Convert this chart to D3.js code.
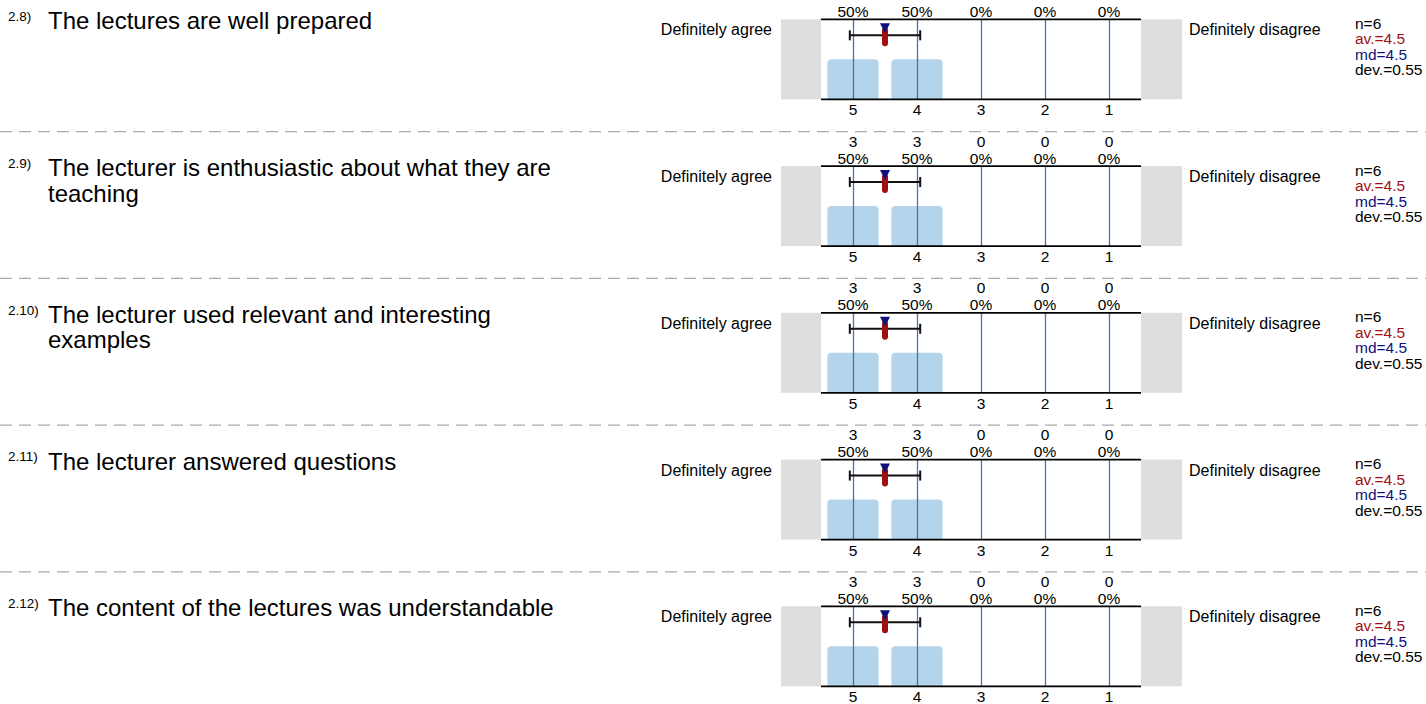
<!DOCTYPE html>
<html>
<head>
<meta charset="utf-8">
<script src="https://cdn.jsdelivr.net/npm/d3@7"></script>
<style>
  html, body { margin: 0; padding: 0; background: #fff; }
  svg { display: block; font-family: "Liberation Sans", Arial, sans-serif; }
</style>
</head>
<body>
<div id="chart"></div>
<script>
// ─── data ────────────────────────────────────────────────────────────────
const QUESTION_IDS = ["2.8)", "2.9)", "2.10)", "2.11)", "2.12)"];
const QUESTION_LINES = [
    ["The lectures are well prepared"],
    ["The lecturer is enthusiastic about what they are", "teaching"],
    ["The lecturer used relevant and interesting", "examples"],
    ["The lecturer answered questions"],
    ["The content of the lectures was understandable"]
];
const SCALE_POINTS = ["5", "4", "3", "2", "1"];
const COUNTS = [
    [3, 3, 0, 0, 0],
    [3, 3, 0, 0, 0],
    [3, 3, 0, 0, 0],
    [3, 3, 0, 0, 0],
    [3, 3, 0, 0, 0]
];
const PERCENTS = [
    [50, 50, 0, 0, 0],
    [50, 50, 0, 0, 0],
    [50, 50, 0, 0, 0],
    [50, 50, 0, 0, 0],
    [50, 50, 0, 0, 0]
];
const N_VALUES = [6, 6, 6, 6, 6];
const MEANS = [4.5, 4.5, 4.5, 4.5, 4.5];
const MEDIANS = [4.5, 4.5, 4.5, 4.5, 4.5];
const DEVS = [0.55, 0.55, 0.55, 0.55, 0.55];
const LEFT_POLE = "Definitely agree";
const RIGHT_POLE = "Definitely disagree";

// ─── layout / colours ────────────────────────────────────────────────────
const W = 1426, H = 704;
const BLOCK_STEP = 146.75, FIRST_TOP = 19.3, PLOT_H = 80;
const PLOT_LEFT = 821, PLOT_RIGHT = 1141;
const COLOR_BAR = "#b4d4eb";
const COLOR_GRID = "#3d76b8";
const COLOR_GRAY = "#dedede";
const COLOR_MEAN = "#a01010";
const COLOR_MEDIAN = "#10107a";
const FS = 15.5;

const svg = d3.select("#chart").append("svg")
    .attr("width", W).attr("height", H)
    .attr("viewBox", `0 0 ${W} ${H}`);

const x = d3.scaleBand().domain(SCALE_POINTS).range([PLOT_LEFT, PLOT_RIGHT])
    .paddingInner(0.2).paddingOuter(0.1);
const center = k => x(k) + x.bandwidth() / 2;
const xVal = d3.scaleLinear().domain([5, 1]).range([center("5"), center("1")]);

QUESTION_IDS.forEach((qid, i) => {
    const top = FIRST_TOP + i * BLOCK_STEP;
    const bottom = top + PLOT_H;
    const y = d3.scaleLinear().domain([0, 100]).range([bottom, top]);
    const g = svg.append("g");

    // separator
    if (i > 0) {
        g.append("line")
            .attr("x1", 0).attr("x2", W)
            .attr("y1", top - 34.5).attr("y2", top - 34.5)
            .attr("stroke", "#aaaaaa").attr("stroke-width", 1.2)
            .attr("stroke-dasharray", "12,7");
    }

    // question id + text
    g.append("text")
        .attr("x", 8).attr("y", top + 1.7)
        .attr("font-size", 13.5).attr("fill", "#000")
        .text(qid);
    const qt = g.append("text").attr("font-size", 24).attr("fill", "#000");
    QUESTION_LINES[i].forEach((line, j) => {
        qt.append("tspan").attr("x", 48).attr("y", top + 10 + j * 25.5).text(line);
    });

    // gray end boxes
    g.append("rect").attr("x", 781).attr("y", top).attr("width", PLOT_LEFT - 781).attr("height", PLOT_H)
        .attr("fill", COLOR_GRAY);
    g.append("rect").attr("x", PLOT_RIGHT).attr("y", top).attr("width", 1182 - PLOT_RIGHT).attr("height", PLOT_H)
        .attr("fill", COLOR_GRAY);

    // pole labels
    g.append("text").attr("x", 772).attr("y", top + 16)
        .attr("text-anchor", "end").attr("font-size", 16).text(LEFT_POLE);
    g.append("text").attr("x", 1189).attr("y", top + 16)
        .attr("font-size", 16).text(RIGHT_POLE);

    // bars (rounded top corners)
    const bw = x.bandwidth(), r = 4;
    g.selectAll(".bar").data(SCALE_POINTS.map((k, j) => ({ k, p: PERCENTS[i][j] })).filter(d => d.p > 0))
        .enter().append("path")
        .attr("fill", COLOR_BAR)
        .attr("d", d => {
            const x0 = x(d.k), x1 = x0 + bw, y0 = y(d.p), y1 = bottom;
            return `M${x0},${y1}V${y0 + r}Q${x0},${y0} ${x0 + r},${y0}H${x1 - r}Q${x1},${y0} ${x1},${y0 + r}V${y1}Z`;
        });

    // grid lines
    g.selectAll(".grid").data(SCALE_POINTS).enter().append("line")
        .attr("x1", d => center(d) + 0.5).attr("x2", d => center(d) + 0.5)
        .attr("y1", top).attr("y2", bottom)
        .attr("stroke", COLOR_GRID).attr("stroke-width", 1.3);

    // top / bottom frame lines
    [top, bottom].forEach(yy => {
        g.append("line").attr("x1", PLOT_LEFT).attr("x2", PLOT_RIGHT)
            .attr("y1", yy).attr("y2", yy)
            .attr("stroke", "#000").attr("stroke-width", 1.8);
    });

    // counts and percents above
    SCALE_POINTS.forEach((k, j) => {
        g.append("text").attr("x", center(k)).attr("y", top - 19.5)
            .attr("text-anchor", "middle").attr("font-size", FS).text(COUNTS[i][j]);
        g.append("text").attr("x", center(k)).attr("y", top - 2.5)
            .attr("text-anchor", "middle").attr("font-size", FS).text(PERCENTS[i][j] + "%");
    });

    // tick labels below
    g.selectAll(".tick").data(SCALE_POINTS).enter().append("text")
        .attr("x", center).attr("y", bottom + 16)
        .attr("text-anchor", "middle").attr("font-size", FS)
        .text(d => d);

    // deviation bar
    const ey = top + 16;
    const lo = xVal(MEANS[i] + DEVS[i]), hi = xVal(MEANS[i] - DEVS[i]);
    g.append("line").attr("x1", lo).attr("x2", hi).attr("y1", ey).attr("y2", ey)
        .attr("stroke", "#111").attr("stroke-width", 2);
    [lo, hi].forEach(xx => {
        g.append("line").attr("x1", xx).attr("x2", xx).attr("y1", ey - 5).attr("y2", ey + 5)
            .attr("stroke", "#111").attr("stroke-width", 2);
    });

    // mean (red) and median (blue) marker
    const mx = xVal(MEANS[i]), mdx = xVal(MEDIANS[i]);
    g.append("rect").attr("x", mx - 3).attr("y", top + 8).attr("width", 6).attr("height", 19)
        .attr("rx", 3).attr("fill", COLOR_MEAN);
    g.append("path")
        .attr("d", `M${mdx - 5},${top + 4}L${mdx + 5},${top + 4}L${mdx},${top + 14}Z`)
        .attr("fill", COLOR_MEDIAN);

    // stats
    const stats = [
        { t: "n=" + N_VALUES[i], c: "#000" },
        { t: "av.=" + MEANS[i], c: COLOR_MEAN },
        { t: "md=" + MEDIANS[i], c: COLOR_MEDIAN },
        { t: "dev.=" + DEVS[i].toFixed(2), c: "#000" }
    ];
    stats.forEach((s, j) => {
        g.append("text").attr("x", 1355).attr("y", top + 9.5 + j * 15.5)
            .attr("font-size", FS).attr("fill", s.c).text(s.t);
    });
});
</script>
</body>
</html>
